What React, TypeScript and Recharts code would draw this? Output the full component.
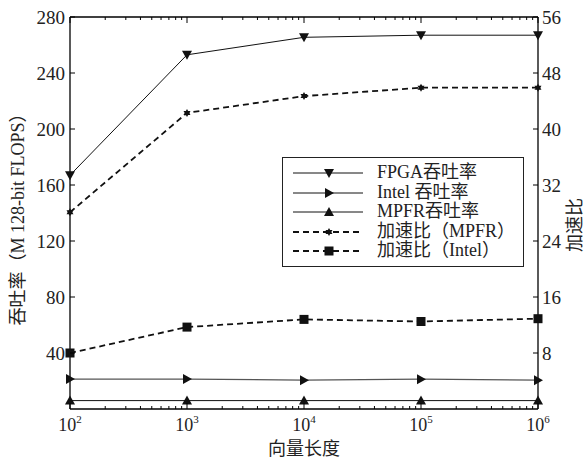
import { LineChart, Line, XAxis, YAxis } from 'recharts';

const SERIF = '"Liberation Serif", "Noto Sans CJK SC", serif';

// vector length (log x axis)
const lengths = [100, 1000, 10000, 100000, 1000000];
// throughput, M 128-bit FLOPS (left axis)
const fpgaThroughput = [167, 253, 265.5, 267, 267];
const intelThroughput = [21.4, 21.4, 20.6, 21.3, 20.6];
const mpfrThroughput = [6, 6, 6, 6, 6];
// speedup (right axis)
const speedupMpfr = [28.1, 42.3, 44.7, 45.9, 45.9];
const speedupIntel = [8.0, 11.7, 12.8, 12.5, 12.9];

const leftTicks = [40, 80, 120, 160, 200, 240, 280];
const rightTicks = [8, 16, 24, 32, 40, 48, 56];
const minorTicks = [
  200, 300, 400, 500, 600, 700, 800, 900,
  2000, 3000, 4000, 5000, 6000, 7000, 8000, 9000,
  20000, 30000, 40000, 50000, 60000, 70000, 80000, 90000,
  200000, 300000, 400000, 500000, 600000, 700000, 800000, 900000,
];
const xTicks = [...lengths, ...minorTicks].sort((a, b) => a - b);

const data = lengths.map((n, i) => ({
  n,
  fpga: fpgaThroughput[i],
  intel: intelThroughput[i],
  mpfr: mpfrThroughput[i],
  spMpfr: speedupMpfr[i],
  spIntel: speedupIntel[i],
}));

type Shape = 'down' | 'right' | 'up' | 'star' | 'square';

function marker(shape: Shape, cx: number, cy: number, key?: number) {
  const fill = '#111';
  if (shape === 'down')
    return <polygon key={key} points={`${cx - 5},${cy - 4} ${cx + 5},${cy - 4} ${cx},${cy + 5}`} fill={fill} />;
  if (shape === 'right')
    return <polygon key={key} points={`${cx - 4},${cy - 5} ${cx - 4},${cy + 5} ${cx + 5},${cy}`} fill={fill} />;
  if (shape === 'up')
    return <polygon key={key} points={`${cx - 5},${cy + 4} ${cx + 5},${cy + 4} ${cx},${cy - 5}`} fill={fill} />;
  if (shape === 'square')
    return <rect key={key} x={cx - 4.5} y={cy - 4.5} width={9} height={9} fill={fill} />;
  const r = 4;
  return (
    <g key={key} fill={fill}>
      <polygon points={`${cx},${cy - r} ${cx + r * 0.87},${cy + r / 2} ${cx - r * 0.87},${cy + r / 2}`} />
      <polygon points={`${cx},${cy + r} ${cx + r * 0.87},${cy - r / 2} ${cx - r * 0.87},${cy - r / 2}`} />
    </g>
  );
}

const dotOf = (shape: Shape) => (props: any) => marker(shape, props.cx, props.cy, props.index);

const LeftTick = ({ x, y, payload }: any) => (
  <g>
    <line x1={x} x2={x + 5} y1={y} y2={y} stroke="#000" />
    <text x={x - 5} y={y} dy="0.36em" textAnchor="end" fontSize={19} fill="#222" fontFamily={SERIF}>
      {payload.value}
    </text>
  </g>
);

const RightTick = ({ x, y, payload }: any) => (
  <g>
    <line x1={x - 5} x2={x} y1={y} y2={y} stroke="#000" />
    <text x={x + 4} y={y} dy="0.36em" textAnchor="start" fontSize={19} fill="#222" fontFamily={SERIF}>
      {payload.value}
    </text>
  </g>
);

const BottomTick = ({ x, y, payload }: any) => {
  const major = lengths.includes(payload.value);
  return (
    <g>
      <line x1={x} x2={x} y1={y} y2={y - (major ? 6 : 3)} stroke="#000" />
      {major && (
        <text x={x} y={y + 22} textAnchor="middle" fontSize={18} fill="#222" fontFamily={SERIF}>
          <tspan>10</tspan>
          <tspan dy={-8} fontSize={11}>{Math.round(Math.log10(payload.value))}</tspan>
        </text>
      )}
    </g>
  );
};

const TopTick = ({ x, y, payload }: any) => {
  const major = lengths.includes(payload.value);
  return <line x1={x} x2={x} y1={y} y2={y + (major ? 6 : 3)} stroke="#000" />;
};

const sideLabel = (text: string, dx: number, dyc: number) => (props: any) => {
  const vb = props.viewBox;
  const cx = vb.x + dx;
  const cy = vb.y + vb.height / 2 + dyc;
  return (
    <text
      x={cx}
      y={cy}
      transform={`rotate(-90, ${cx}, ${cy})`}
      textAnchor="middle"
      dominantBaseline="central"
      fontSize={18}
      fill="#222"
      fontFamily={SERIF}
    >
      {text}
    </text>
  );
};

const legendItems: { label: string; shape: Shape; dashed: boolean }[] = [
  { label: 'FPGA吞吐率', shape: 'down', dashed: false },
  { label: 'Intel 吞吐率', shape: 'right', dashed: false },
  { label: 'MPFR吞吐率', shape: 'up', dashed: false },
  { label: '加速比（MPFR）', shape: 'star', dashed: true },
  { label: '加速比（Intel）', shape: 'square', dashed: true },
];

export default function App() {
  const axisLine = { stroke: '#000', strokeWidth: 1.3 };
  return (
    <div style={{ position: 'absolute', left: 0, top: 0, width: 588, height: 459, background: '#fff' }}>
      <LineChart width={588} height={459} data={data} margin={{ top: 16, right: 0, bottom: 0, left: 0 }}>
        <XAxis
          dataKey="n"
          type="number"
          scale="log"
          domain={[100, 1000000]}
          ticks={xTicks}
          interval={0}
          tick={<BottomTick />}
          tickLine={false}
          tickSize={0}
          tickMargin={0}
          height={50}
          axisLine={axisLine}
          label={{ value: '向量长度', position: 'insideBottom', offset: 4, fontSize: 18, fill: '#222', fontFamily: SERIF }}
        />
        <XAxis
          xAxisId="top"
          orientation="top"
          dataKey="n"
          type="number"
          scale="log"
          domain={[100, 1000000]}
          ticks={xTicks}
          interval={0}
          tick={<TopTick />}
          tickLine={false}
          tickSize={0}
          tickMargin={0}
          height={1}
          axisLine={axisLine}
        />
        <YAxis
          yAxisId="left"
          domain={[0, 280]}
          ticks={leftTicks}
          interval={0}
          tick={<LeftTick />}
          tickLine={false}
          tickSize={0}
          tickMargin={0}
          width={70}
          axisLine={axisLine}
          label={{ content: sideLabel('吞吐率（M 128-bit FLOPS）', 18, 2) }}
        />
        <YAxis
          yAxisId="right"
          orientation="right"
          domain={[0, 56]}
          ticks={rightTicks}
          interval={0}
          tick={<RightTick />}
          tickLine={false}
          tickSize={0}
          tickMargin={0}
          width={50}
          axisLine={axisLine}
          label={{ content: sideLabel('加速比', 37, 12) }}
        />
        <Line yAxisId="left" dataKey="fpga" stroke="#111" strokeWidth={1} dot={dotOf('down')} isAnimationActive={false} />
        <Line yAxisId="left" dataKey="intel" stroke="#555" strokeWidth={1.3} dot={dotOf('right')} isAnimationActive={false} />
        <Line yAxisId="left" dataKey="mpfr" stroke="#111" strokeWidth={1} dot={dotOf('up')} isAnimationActive={false} />
        <Line yAxisId="right" dataKey="spMpfr" stroke="#111" strokeWidth={1.8} strokeDasharray="6 4" dot={dotOf('star')} isAnimationActive={false} />
        <Line yAxisId="right" dataKey="spIntel" stroke="#111" strokeWidth={1.8} strokeDasharray="6 4" dot={dotOf('square')} isAnimationActive={false} />
      </LineChart>
      <div
        style={{
          position: 'absolute',
          left: 282,
          top: 157,
          width: 242,
          height: 110,
          border: '1px solid #222',
          background: '#fff',
          boxSizing: 'border-box',
          paddingTop: 5,
          fontFamily: SERIF,
          fontSize: 18,
          color: '#222',
        }}
      >
        {legendItems.map((it) => (
          <div key={it.label} style={{ display: 'flex', alignItems: 'center', height: 19.5 }}>
            <svg width={94} height={19.5} style={{ flex: 'none' }}>
              <line
                x1={10}
                x2={80}
                y1={10}
                y2={10}
                stroke="#111"
                strokeWidth={it.dashed ? 1.8 : 1}
                strokeDasharray={it.dashed ? '6 4' : undefined}
              />
              {marker(it.shape, 46, 10)}
            </svg>
            <span style={{ whiteSpace: 'nowrap', lineHeight: '19.5px' }}>{it.label}</span>
          </div>
        ))}
      </div>
    </div>
  );
}
